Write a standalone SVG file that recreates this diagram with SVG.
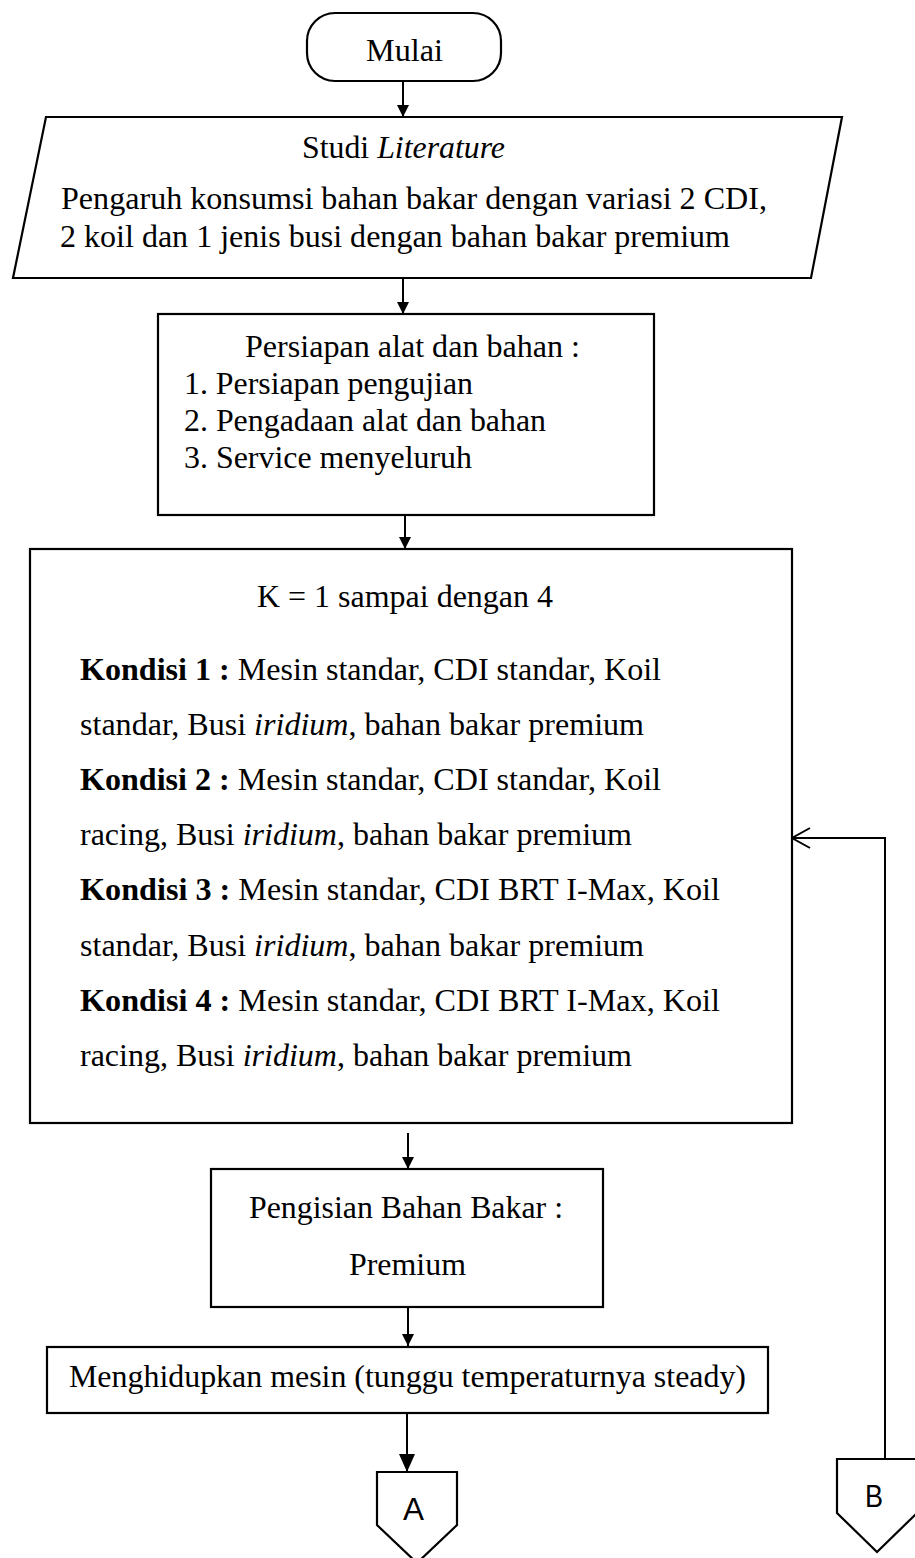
<svg xmlns="http://www.w3.org/2000/svg" width="915" height="1558" viewBox="0 0 915 1558">
  <style>
    .shape { fill: #ffffff; stroke: #000000; stroke-width: 2.2; }
    .line { fill: none; stroke: #000000; stroke-width: 2; }
    .t { font-family: "Liberation Serif", "Times New Roman", serif; font-size: 31px; fill: #000000; }
    .c { font-family: "Liberation Sans", Arial, sans-serif; font-size: 31px; fill: #000000; }
    .b { font-weight: bold; }
    .i { font-style: italic; }
  </style>
  <defs>
    <marker id="arrow" markerUnits="userSpaceOnUse" markerWidth="12" markerHeight="12" refX="12" refY="6" orient="auto">
      <path d="M0,0 L12,6 L0,12 Z" fill="#000000"/>
    </marker>
    <marker id="arrowBig" markerUnits="userSpaceOnUse" markerWidth="18" markerHeight="16" refX="18" refY="8" orient="auto">
      <path d="M0,0 L18,8 L0,16 Z" fill="#000000"/>
    </marker>
    <marker id="arrowOpen" markerUnits="userSpaceOnUse" markerWidth="22" markerHeight="24" refX="19" refY="12" orient="auto">
      <path d="M1,2 L19,12 L1,22" fill="none" stroke="#000000" stroke-width="2"/>
    </marker>
  </defs>

  <!-- connectors -->
  <g id="connectors">
    <line class="line" x1="403" y1="81" x2="403" y2="117" marker-end="url(#arrow)"/>
    <line class="line" x1="403" y1="278" x2="403" y2="314" marker-end="url(#arrow)"/>
    <line class="line" x1="405" y1="515" x2="405" y2="549" marker-end="url(#arrow)"/>
    <line class="line" x1="408" y1="1133" x2="408" y2="1169" marker-end="url(#arrow)"/>
    <line class="line" x1="408" y1="1307" x2="408" y2="1346" marker-end="url(#arrow)"/>
    <line class="line" x1="407" y1="1414" x2="407" y2="1472" marker-end="url(#arrowBig)"/>
    <polyline class="line" points="885,1459 885,838 792,838" marker-end="url(#arrowOpen)"/>
  </g>

  <!-- start terminator -->
  <g id="mulai">
    <rect class="shape" x="307" y="13" width="194" height="68" rx="28" ry="28"/>
    <text class="t" x="366" y="61" textLength="77" lengthAdjust="spacingAndGlyphs">Mulai</text>
  </g>

  <!-- literature study (input/output) -->
  <g id="studi">
    <polygon class="shape" points="46,117 842,117 811,278 13,278"/>
    <text class="t" x="302" y="158" textLength="203" lengthAdjust="spacingAndGlyphs">Studi <tspan class="i">Literature</tspan></text>
    <text class="t" x="61" y="209" textLength="706" lengthAdjust="spacingAndGlyphs">Pengaruh konsumsi bahan bakar dengan variasi 2 CDI,</text>
    <text class="t" x="60" y="247" textLength="670" lengthAdjust="spacingAndGlyphs">2 koil dan 1 jenis busi dengan bahan bakar premium</text>
  </g>

  <!-- preparation -->
  <g id="persiapan">
    <rect class="shape" x="158" y="314" width="496" height="201"/>
    <text class="t" x="245" y="357" textLength="335" lengthAdjust="spacingAndGlyphs">Persiapan alat dan bahan :</text>
    <text class="t" x="184" y="394" textLength="289" lengthAdjust="spacingAndGlyphs">1. Persiapan pengujian</text>
    <text class="t" x="184" y="431" textLength="362" lengthAdjust="spacingAndGlyphs">2. Pengadaan alat dan bahan</text>
    <text class="t" x="184" y="468" textLength="288" lengthAdjust="spacingAndGlyphs">3. Service menyeluruh</text>
  </g>

  <!-- test conditions -->
  <g id="kondisi">
    <rect class="shape" x="30" y="549" width="762" height="574"/>
    <text class="t" x="257" y="607" textLength="296" lengthAdjust="spacingAndGlyphs">K = 1 sampai dengan 4</text>
    <text class="t" x="80" y="679.5" textLength="581" lengthAdjust="spacingAndGlyphs"><tspan class="b">Kondisi 1 :</tspan> Mesin standar, CDI standar, Koil</text>
    <text class="t" x="80" y="734.7" textLength="564" lengthAdjust="spacingAndGlyphs">standar, Busi <tspan class="i">iridium</tspan>, bahan bakar premium</text>
    <text class="t" x="80" y="789.9" textLength="581" lengthAdjust="spacingAndGlyphs"><tspan class="b">Kondisi 2 :</tspan> Mesin standar, CDI standar, Koil</text>
    <text class="t" x="80" y="845.1" textLength="552" lengthAdjust="spacingAndGlyphs">racing, Busi <tspan class="i">iridium</tspan>, bahan bakar premium</text>
    <text class="t" x="80" y="900.3" textLength="640" lengthAdjust="spacingAndGlyphs"><tspan class="b">Kondisi 3 :</tspan> Mesin standar, CDI BRT I-Max, Koil</text>
    <text class="t" x="80" y="955.5" textLength="564" lengthAdjust="spacingAndGlyphs">standar, Busi <tspan class="i">iridium</tspan>, bahan bakar premium</text>
    <text class="t" x="80" y="1010.7" textLength="640" lengthAdjust="spacingAndGlyphs"><tspan class="b">Kondisi 4 :</tspan> Mesin standar, CDI BRT I-Max, Koil</text>
    <text class="t" x="80" y="1065.9" textLength="552" lengthAdjust="spacingAndGlyphs">racing, Busi <tspan class="i">iridium</tspan>, bahan bakar premium</text>
  </g>

  <!-- fuel filling -->
  <g id="pengisian">
    <rect class="shape" x="211" y="1169" width="392" height="138"/>
    <text class="t" x="249" y="1218" textLength="314" lengthAdjust="spacingAndGlyphs">Pengisian Bahan Bakar :</text>
    <text class="t" x="349" y="1275" textLength="117" lengthAdjust="spacingAndGlyphs">Premium</text>
  </g>

  <!-- engine start -->
  <g id="menghidupkan">
    <rect class="shape" x="47" y="1347" width="721" height="66"/>
    <text class="t" x="69" y="1387" textLength="677" lengthAdjust="spacingAndGlyphs">Menghidupkan mesin (tunggu temperaturnya steady)</text>
  </g>

  <!-- off-page connector A -->
  <g id="konektor-a">
    <polygon class="shape" points="377,1472 457,1472 457,1525 417,1563 377,1525"/>
    <text class="c" x="403" y="1520" textLength="21" lengthAdjust="spacingAndGlyphs">A</text>
  </g>

  <!-- off-page connector B -->
  <g id="konektor-b">
    <polygon class="shape" points="837,1459 917,1459 917,1513 877,1552 837,1513"/>
    <text class="c" x="865" y="1507" textLength="18" lengthAdjust="spacingAndGlyphs">B</text>
  </g>
</svg>
